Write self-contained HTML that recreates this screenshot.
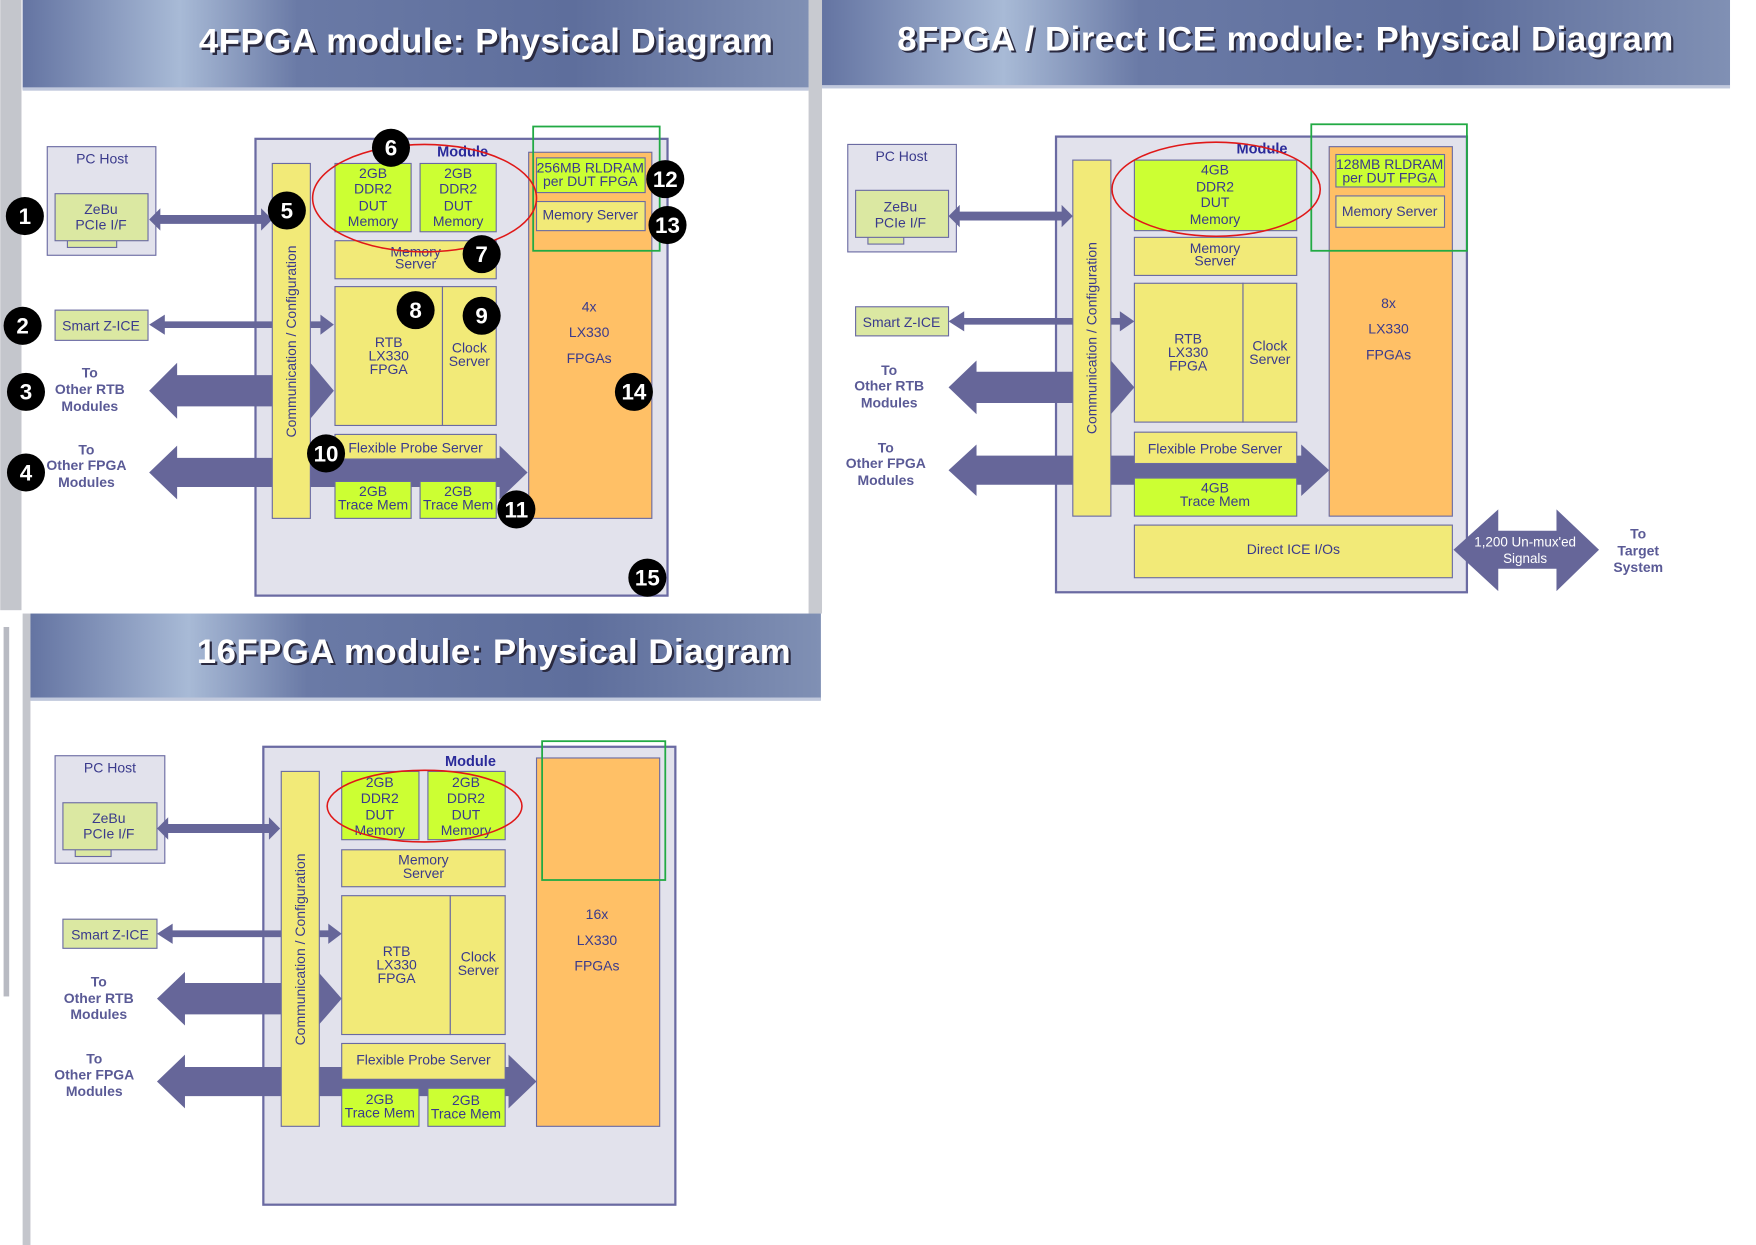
<!DOCTYPE html>
<html><head><meta charset="utf-8"><style>
html,body{margin:0;padding:0;background:#fff;}
svg{display:block;}
text{font-family:"Liberation Sans",sans-serif;}
.t{fill:#3a3a8c;font-size:12.5px;text-anchor:middle;}
.b{fill:#5a5a96;font-size:12.5px;font-weight:bold;text-anchor:middle;}
.title{fill:#fff;font-size:31px;font-weight:bold;text-anchor:middle;letter-spacing:0.5px;}
.sh{fill:#2a2a40;font-size:31px;font-weight:bold;text-anchor:middle;letter-spacing:0.5px;}
.n{fill:#fff;font-size:20px;font-weight:bold;text-anchor:middle;}
.mod{fill:#e2e2ec;stroke:#6a6aa2;stroke-width:2;}
.box{stroke:#6a6aa2;stroke-width:1;}
.y{fill:#f2ea78;}
.g{fill:#ccff33;}
.lg{fill:#dbe8a2;}
.o{fill:#ffc066;}
.ar{fill:#666699;}
</style></head><body>
<svg width="1756" height="1245" viewBox="0 0 1568 1112" xmlns="http://www.w3.org/2000/svg">
<defs>
<linearGradient id="ban" x1="0" y1="0" x2="1" y2="0">
<stop offset="0" stop-color="#6474a2"/><stop offset="0.2" stop-color="#a8bad6"/><stop offset="0.35" stop-color="#6a7aa6"/><stop offset="0.7" stop-color="#5e6e9c"/><stop offset="1" stop-color="#8090b4"/>
</linearGradient>
</defs>
<rect width="1568" height="1112" fill="#fff"/>
<!-- left gray strips -->
<rect x="0" y="0" width="19" height="545" fill="#c4c6cc"/>
<rect x="722" y="0" width="12" height="548" fill="#c8cad0"/>
<rect x="3" y="560" width="5" height="330" fill="#b8bac2"/>
<rect x="20" y="548" width="7" height="564" fill="#c4c6cc"/>

<!-- banners -->
<rect x="20" y="0" width="702" height="80" fill="url(#ban)"/>
<rect x="20" y="78" width="702" height="3" fill="#c0c8dc"/>
<text class="sh" x="436" y="49">4FPGA module: Physical Diagram</text>
<text class="title" x="434" y="47">4FPGA module: Physical Diagram</text>

<rect x="734" y="0" width="811" height="78" fill="url(#ban)"/>
<rect x="734" y="76" width="811" height="3" fill="#c0c8dc"/>
<text class="sh" x="1150" y="47">8FPGA / Direct ICE module: Physical Diagram</text>
<text class="title" x="1148" y="45">8FPGA / Direct ICE module: Physical Diagram</text>

<rect x="27" y="548" width="706" height="77" fill="url(#ban)"/>
<rect x="27" y="623" width="706" height="3" fill="#c0c8dc"/>
<text class="sh" x="443" y="594">16FPGA module: Physical Diagram</text>
<text class="title" x="441" y="592">16FPGA module: Physical Diagram</text>

<!-- ================= 4FPGA ================= -->
<rect class="box" x="42" y="131" width="97" height="97" fill="#e2e2ec"/>
<text class="t" x="91" y="146">PC Host</text>
<rect class="box lg" x="60" y="214" width="44" height="7"/>
<rect class="box lg" x="49" y="173" width="83" height="42"/>
<text class="t" x="90" y="191">ZeBu</text><text class="t" x="90" y="205">PCIe I/F</text>
<rect class="box lg" x="49" y="277" width="83" height="27"/>
<text class="t" x="90" y="295">Smart Z-ICE</text>
<text class="b" x="80" y="337">To</text><text class="b" x="80" y="352">Other RTB</text><text class="b" x="80" y="367">Modules</text>
<text class="b" x="77" y="406">To</text><text class="b" x="77" y="420">Other FPGA</text><text class="b" x="77" y="435">Modules</text>

<rect class="mod" x="228" y="124" width="368" height="408"/>
<polygon class="ar" points="133,196 143,186 143,192 233,192 233,186 243,196 233,206 233,200 143,200 143,206"/>
<polygon class="ar" points="133,290 147,281 147,287 286,287 286,281 298,290 286,299 286,293 147,293 147,299"/>
<polygon class="ar" points="133,349 158,324 158,335 277,335 277,324 298,349 277,374 277,363 158,363 158,374"/>
<polygon class="ar" points="133,422 158,398 158,409 446,409 446,398 471,422 446,446 446,435 158,435 158,446"/>
<rect class="box y" x="243" y="146" width="34" height="317"/>
<text class="t" transform="translate(264,305) rotate(-90)">Communication / Configuration</text>
<text x="413" y="140" style="fill:#2a2a9a;font-size:13px;font-weight:bold;text-anchor:middle">Module</text>
<rect class="box g" x="299" y="146" width="68" height="61"/>
<text class="t" x="333" y="159">2GB</text><text class="t" x="333" y="173">DDR2</text><text class="t" x="333" y="188">DUT</text><text class="t" x="333" y="202">Memory</text>
<rect class="box g" x="375" y="146" width="68" height="61"/>
<text class="t" x="409" y="159">2GB</text><text class="t" x="409" y="173">DDR2</text><text class="t" x="409" y="188">DUT</text><text class="t" x="409" y="202">Memory</text>
<rect class="box y" x="299" y="215" width="144" height="34"/>
<text class="t" x="371" y="229">Memory</text><text class="t" x="371" y="240">Server</text>
<rect class="box y" x="299" y="256" width="96" height="124"/>
<rect class="box y" x="395" y="256" width="48" height="124"/>
<text class="t" x="347" y="310">RTB</text><text class="t" x="347" y="322">LX330</text><text class="t" x="347" y="334">FPGA</text>
<text class="t" x="419" y="315">Clock</text><text class="t" x="419" y="327">Server</text>
<rect class="box y" x="299" y="388" width="144" height="22"/>
<text class="t" x="371" y="404">Flexible Probe Server</text>
<rect class="box g" x="299" y="430" width="68" height="33"/>
<text class="t" x="333" y="443">2GB</text><text class="t" x="333" y="455">Trace Mem</text>
<rect class="box g" x="375" y="430" width="68" height="33"/>
<text class="t" x="409" y="443">2GB</text><text class="t" x="409" y="455">Trace Mem</text>
<rect class="box o" x="472" y="136" width="110" height="327"/>
<rect class="box g" x="479" y="141" width="97" height="31"/>
<text class="t" x="527" y="154">256MB RLDRAM</text><text class="t" x="527" y="166">per DUT FPGA</text>
<rect class="box y" x="479" y="180" width="97" height="26"/>
<text class="t" x="527" y="196">Memory Server</text>
<text class="t" x="526" y="278">4x</text><text class="t" x="526" y="301">LX330</text><text class="t" x="526" y="324">FPGAs</text>
<rect x="476" y="113" width="113" height="111" fill="none" stroke="#22aa44" stroke-width="1.6"/>
<ellipse cx="379" cy="177" rx="100" ry="48" fill="none" stroke="#e01818" stroke-width="1.4"/>

<g>
<circle cx="22" cy="193" r="17"/><text class="n" x="22" y="200">1</text>
<circle cx="20" cy="291" r="17"/><text class="n" x="20" y="298">2</text>
<circle cx="23" cy="350" r="17"/><text class="n" x="23" y="357">3</text>
<circle cx="23" cy="422" r="17"/><text class="n" x="23" y="429">4</text>
<circle cx="256" cy="188" r="17"/><text class="n" x="256" y="195">5</text>
<circle cx="349" cy="132" r="17"/><text class="n" x="349" y="139">6</text>
<circle cx="430" cy="227" r="17"/><text class="n" x="430" y="234">7</text>
<circle cx="371" cy="277" r="17"/><text class="n" x="371" y="284">8</text>
<circle cx="430" cy="282" r="17"/><text class="n" x="430" y="289">9</text>
<circle cx="291" cy="405" r="17"/><text class="n" x="291" y="412">10</text>
<circle cx="461" cy="455" r="17"/><text class="n" x="461" y="462">11</text>
<circle cx="594" cy="160" r="17"/><text class="n" x="594" y="167">12</text>
<circle cx="596" cy="201" r="17"/><text class="n" x="596" y="208">13</text>
<circle cx="566" cy="350" r="17"/><text class="n" x="566" y="357">14</text>
<circle cx="578" cy="516" r="17"/><text class="n" x="578" y="523">15</text>
</g>

<!-- ================= 8FPGA ================= -->
<rect class="box" x="757" y="129" width="97" height="96" fill="#e2e2ec"/>
<text class="t" x="805" y="144">PC Host</text>
<rect class="box lg" x="775" y="211" width="32" height="7"/>
<rect class="box lg" x="764" y="170" width="83" height="42"/>
<text class="t" x="804" y="189">ZeBu</text><text class="t" x="804" y="203">PCIe I/F</text>
<rect class="box lg" x="764" y="274" width="83" height="26"/>
<text class="t" x="805" y="292">Smart Z-ICE</text>
<text class="b" x="794" y="335">To</text><text class="b" x="794" y="349">Other RTB</text><text class="b" x="794" y="364">Modules</text>
<text class="b" x="791" y="404">To</text><text class="b" x="791" y="418">Other FPGA</text><text class="b" x="791" y="433">Modules</text>

<rect class="mod" x="943" y="122" width="367" height="407"/>
<polygon class="ar" points="847,193 857,183 857,189 948,189 948,183 958,193 948,203 948,197 857,197 857,203"/>
<polygon class="ar" points="847,287 861,278 861,284 1000,284 1000,278 1013,287 1000,296 1000,290 861,290 861,296"/>
<polygon class="ar" points="847,346 872,322 872,332 992,332 992,322 1013,346 992,370 992,360 872,360 872,370"/>
<polygon class="ar" points="847,420 872,397 872,407 1162,407 1162,397 1187,420 1162,443 1162,433 872,433 872,443"/>
<polygon class="ar" points="1298,491 1338,455 1338,474 1390,474 1390,455 1428,491 1390,528 1390,508 1338,508 1338,528"/>
<text x="1362" y="488" style="fill:#fff;font-size:12px;text-anchor:middle">1,200 Un-mux'ed</text>
<text x="1362" y="503" style="fill:#fff;font-size:12px;text-anchor:middle">Signals</text>
<text class="b" x="1463" y="481">To</text><text class="b" x="1463" y="496">Target</text><text class="b" x="1463" y="511">System</text>
<rect class="box y" x="958" y="143" width="34" height="318"/>
<text class="t" transform="translate(979,302) rotate(-90)">Communication / Configuration</text>
<text x="1127" y="137" style="fill:#2a2a9a;font-size:13px;font-weight:bold;text-anchor:middle">Module</text>
<rect class="box g" x="1013" y="143" width="145" height="63"/>
<text class="t" x="1085" y="156">4GB</text><text class="t" x="1085" y="171">DDR2</text><text class="t" x="1085" y="185">DUT</text><text class="t" x="1085" y="200">Memory</text>
<rect class="box y" x="1013" y="212" width="145" height="34"/>
<text class="t" x="1085" y="226">Memory</text><text class="t" x="1085" y="237">Server</text>
<rect class="box y" x="1013" y="253" width="97" height="124"/>
<rect class="box y" x="1110" y="253" width="48" height="124"/>
<text class="t" x="1061" y="307">RTB</text><text class="t" x="1061" y="319">LX330</text><text class="t" x="1061" y="331">FPGA</text>
<text class="t" x="1134" y="313">Clock</text><text class="t" x="1134" y="325">Server</text>
<rect class="box y" x="1013" y="386" width="145" height="28"/>
<text class="t" x="1085" y="405">Flexible Probe Server</text>
<rect class="box g" x="1013" y="427" width="145" height="34"/>
<text class="t" x="1085" y="440">4GB</text><text class="t" x="1085" y="452">Trace Mem</text>
<rect class="box y" x="1013" y="469" width="284" height="47"/>
<text class="t" x="1155" y="495">Direct ICE I/Os</text>
<rect class="box o" x="1187" y="131" width="110" height="330"/>
<rect class="box g" x="1193" y="138" width="97" height="29"/>
<text class="t" x="1241" y="151">128MB RLDRAM</text><text class="t" x="1241" y="163">per DUT FPGA</text>
<rect class="box y" x="1193" y="175" width="97" height="28"/>
<text class="t" x="1241" y="193">Memory Server</text>
<text class="t" x="1240" y="275">8x</text><text class="t" x="1240" y="298">LX330</text><text class="t" x="1240" y="321">FPGAs</text>
<rect x="1171" y="111" width="139" height="113" fill="none" stroke="#22aa44" stroke-width="1.6"/>
<ellipse cx="1086" cy="169" rx="93" ry="42" fill="none" stroke="#e01818" stroke-width="1.4"/>

<!-- ================= 16FPGA ================= -->
<rect class="box" x="49" y="675" width="98" height="96" fill="#e2e2ec"/>
<text class="t" x="98" y="690">PC Host</text>
<rect class="box lg" x="67" y="758" width="32" height="7"/>
<rect class="box lg" x="56" y="717" width="84" height="42"/>
<text class="t" x="97" y="735">ZeBu</text><text class="t" x="97" y="749">PCIe I/F</text>
<rect class="box lg" x="56" y="821" width="84" height="26"/>
<text class="t" x="98" y="839">Smart Z-ICE</text>
<text class="b" x="88" y="881">To</text><text class="b" x="88" y="896">Other RTB</text><text class="b" x="88" y="910">Modules</text>
<text class="b" x="84" y="950">To</text><text class="b" x="84" y="964">Other FPGA</text><text class="b" x="84" y="979">Modules</text>

<rect class="mod" x="235" y="667" width="368" height="409"/>
<polygon class="ar" points="140,740 150,730 150,736 240,736 240,730 250,740 240,750 240,744 150,744 150,750"/>
<polygon class="ar" points="140,834 154,825 154,831 293,831 293,825 305,834 293,843 293,837 154,837 154,843"/>
<polygon class="ar" points="140,892 165,868 165,878 284,878 284,868 305,892 284,916 284,906 165,906 165,916"/>
<polygon class="ar" points="140,966 165,942 165,953 454,953 454,942 479,966 454,990 454,979 165,979 165,990"/>
<rect class="box y" x="251" y="689" width="34" height="317"/>
<text class="t" transform="translate(272,848) rotate(-90)">Communication / Configuration</text>
<text x="420" y="684" style="fill:#2a2a9a;font-size:13px;font-weight:bold;text-anchor:middle">Module</text>
<rect class="box g" x="305" y="689" width="69" height="61"/>
<text class="t" x="339" y="703">2GB</text><text class="t" x="339" y="717">DDR2</text><text class="t" x="339" y="732">DUT</text><text class="t" x="339" y="746">Memory</text>
<rect class="box g" x="382" y="689" width="69" height="61"/>
<text class="t" x="416" y="703">2GB</text><text class="t" x="416" y="717">DDR2</text><text class="t" x="416" y="732">DUT</text><text class="t" x="416" y="746">Memory</text>
<rect class="box y" x="305" y="759" width="146" height="33"/>
<text class="t" x="378" y="772">Memory</text><text class="t" x="378" y="784">Server</text>
<rect class="box y" x="305" y="800" width="97" height="124"/>
<rect class="box y" x="402" y="800" width="49" height="124"/>
<text class="t" x="354" y="854">RTB</text><text class="t" x="354" y="866">LX330</text><text class="t" x="354" y="878">FPGA</text>
<text class="t" x="427" y="859">Clock</text><text class="t" x="427" y="871">Server</text>
<rect class="box y" x="305" y="932" width="146" height="32"/>
<text class="t" x="378" y="951">Flexible Probe Server</text>
<rect class="box g" x="305" y="972" width="69" height="34"/>
<text class="t" x="339" y="986">2GB</text><text class="t" x="339" y="998">Trace Mem</text>
<rect class="box g" x="382" y="972" width="69" height="34"/>
<text class="t" x="416" y="987">2GB</text><text class="t" x="416" y="999">Trace Mem</text>
<rect class="box o" x="479" y="677" width="110" height="329"/>
<text class="t" x="533" y="821">16x</text><text class="t" x="533" y="844">LX330</text><text class="t" x="533" y="867">FPGAs</text>
<rect x="484" y="662" width="110" height="124" fill="none" stroke="#22aa44" stroke-width="1.6"/>
<ellipse cx="379" cy="720" rx="87" ry="32" fill="none" stroke="#e01818" stroke-width="1.4"/>
</svg>
</body></html>
